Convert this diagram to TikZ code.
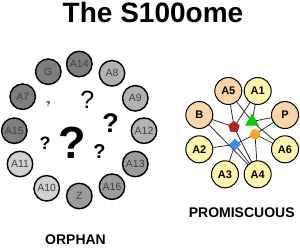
\documentclass[tikz,border=0pt]{standalone}
\usepackage{fontspec}
\setmainfont{Liberation Sans}
\usetikzlibrary{shapes.geometric,backgrounds}
\definecolor{gA}{HTML}{7E7E7E}
\definecolor{gB}{HTML}{B2B2B2}
\definecolor{gC}{HTML}{9C9C9C}
\definecolor{gD}{HTML}{D2D2D2}
\definecolor{peach}{HTML}{FAD6A8}
\definecolor{lyel}{HTML}{FFF4AC}
\definecolor{mred}{HTML}{B02228}
\definecolor{mgreen}{HTML}{00D000}
\definecolor{morange}{HTML}{F5A623}
\definecolor{mblue}{HTML}{3A8EEA}
\tikzset{
  orph/.style={circle,draw=black,line width=1.4pt,minimum size=25.5pt,inner sep=0pt,
    font=\fontsize{10.5}{11}\selectfont,text=black!75},
  prom/.style={circle,draw=black,line width=1pt,minimum size=27pt,inner sep=0pt,
    font=\fontsize{11}{12}\selectfont\bfseries},
  qm/.style={inner sep=0pt},
  edge/.style={line width=0.75pt,black!85},
  title/.style={font=\fontsize{28}{30}\selectfont\bfseries},
  lab/.style={font=\fontsize{14}{16}\selectfont\bfseries}
}
\begin{document}
\begin{tikzpicture}[x=1pt,y=-1pt]
\useasboundingbox (0,0) rectangle (300,247);
% title
\node[title] (title) at (153,12) {The S100ome};
% orphan ring
\node[orph,fill=gA] (G) at (48.3,71.7) {G};
\node[orph,fill=gA] (A14) at (79.3,64) {A14};
\node[orph,fill=gB] (A8) at (112,73.3) {A8};
\node[orph,fill=gA] (A7) at (22.7,96.7) {A7};
\node[orph,fill=gB] (A9) at (135.3,98.3) {A9};
\node[orph,fill=gA] (A15) at (14.3,130.7) {A15};
\node[orph,fill=gB] (A12) at (144,130.7) {A12};
\node[orph,fill=gD] (A11) at (20,164) {A11};
\node[orph,fill=gC] (A13) at (135.3,164) {A13};
\node[orph,fill=gD] (A10) at (46.7,188.3) {A10};
\node[orph,fill=gC] (Z) at (79.3,196) {Z};
\node[orph,fill=gC] (A16) at (112,186.7) {A16};
% question marks
\node[qm,font=\fontsize{45}{45}\selectfont\bfseries] (q0) at (72.5,143) {?};
\node[qm,font=\fontsize{25}{25}\selectfont] (q1) at (87.3,99.3) {?};
\node[qm,font=\fontsize{27}{27}\selectfont\bfseries] (q2) at (110.5,123) {?};
\node[qm,font=\fontsize{20}{20}\selectfont\bfseries] (q3) at (99.5,152) {?};
\node[qm,font=\fontsize{18}{18}\selectfont\bfseries] (q4) at (45,143.3) {?};
\node[qm,font=\fontsize{7}{7}\selectfont\bfseries] (q5) at (48.3,104.3) {?};
\node[lab] (orphan) at (75.5,239.5) {ORPHAN};
% promiscuous network
\node[prom,fill=peach] (A5) at (228.3,91) {A5};
\node[prom,fill=lyel] (A1) at (257.7,91) {A1};
\node[prom,fill=peach] (B) at (199.3,115) {B};
\node[prom,fill=peach] (P) at (285,115) {P};
\node[prom,fill=lyel] (A2) at (199.3,149.3) {A2};
\node[prom,fill=lyel] (A6) at (285,149.3) {A6};
\node[prom,fill=lyel] (A3) at (225,174.3) {A3};
\node[prom,fill=lyel] (A4) at (257.7,174.3) {A4};
\node[regular polygon,regular polygon sides=5,fill=mred,minimum size=12pt,inner sep=0pt] (pent) at (234,127) {};
\node[regular polygon,regular polygon sides=3,fill=mgreen,minimum size=16pt,inner sep=0pt] (tri) at (252,121.5) {};
\node[circle,fill=morange,minimum size=10.5pt,inner sep=0pt] (orc) at (255,134.3) {};
\node[diamond,fill=mblue,minimum size=12pt,inner sep=0pt] (dia) at (235,144.5) {};
\begin{scope}[on background layer]
\draw[edge] (A5.center) -- (pent.center);
\draw[edge] (A1.center) -- (pent.center);
\draw[edge] (B.center) -- (pent.center);
\draw[edge] (pent.center) -- (A4.center);
\draw[edge] (A5.center) -- (tri.center);
\draw[edge] (A1.center) -- (tri.center);
\draw[edge] (P.center) -- (tri.center);
\draw[edge] (tri.center) -- (A6.center);
\draw[edge] (P.center) -- (orc.center);
\draw[edge] (orc.center) -- (A6.center);
\draw[edge] (orc.center) -- (A4.center);
\draw[edge] (orc.center) -- (dia.center);
\draw[edge] (A2.center) -- (dia.center);
\draw[edge] (A3.center) -- (dia.center);
\draw[edge] (dia.center) -- (A4.center);
\draw[edge] (B.center) -- (A4.center);
\end{scope}
\node[lab] (promisc) at (241.7,212.3) {PROMISCUOUS};
\end{tikzpicture}
\end{document}
